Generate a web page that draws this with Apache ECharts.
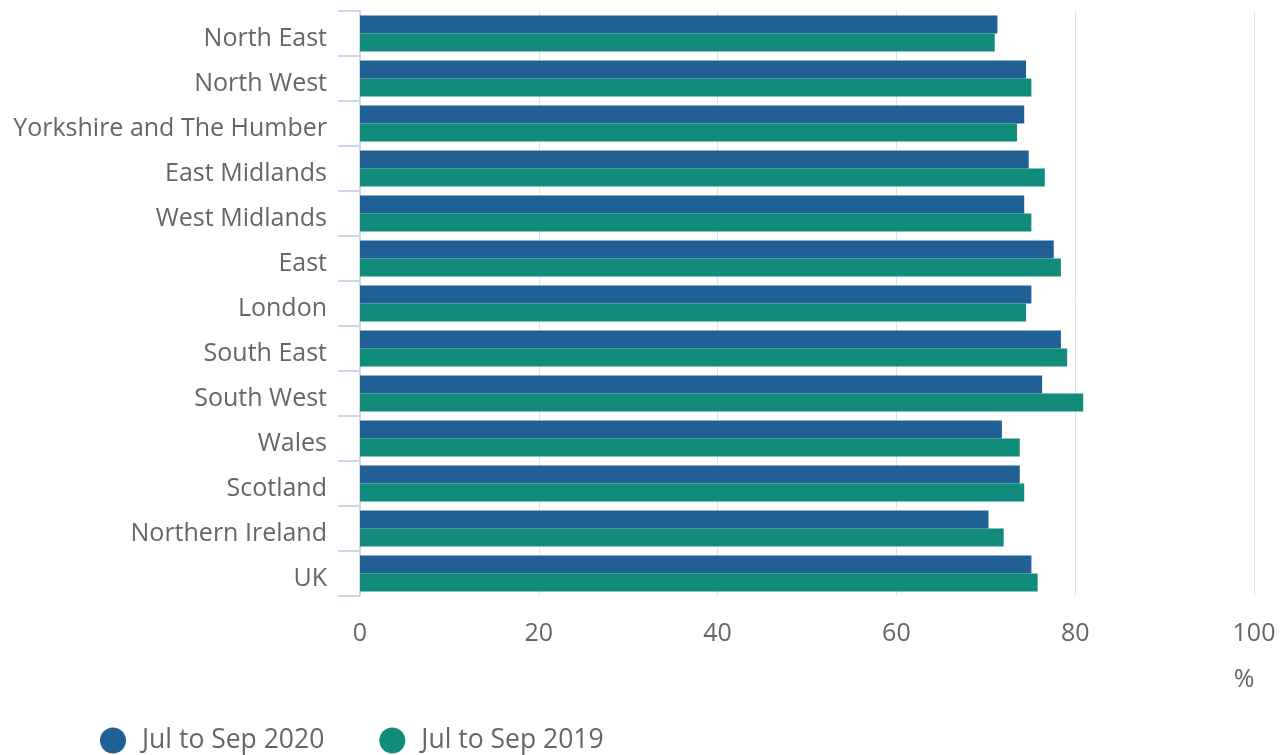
<!DOCTYPE html>
<html>
<head>
<meta charset="utf-8">
<script src="https://cdn.jsdelivr.net/npm/echarts@6/dist/echarts.min.js"></script>
<style>
  html, body { margin: 0; padding: 0; background: #fff; }
  #main { width: 1284px; height: 755px; }
</style>
</head>
<body>
<div id="main"></div>
<script>
const regions = ['North East', 'North West', 'Yorkshire and The Humber', 'East Midlands', 'West Midlands',
  'East', 'London', 'South East', 'South West', 'Wales', 'Scotland', 'Northern Ireland', 'UK'];
const rate2020 = [71.3, 74.5, 74.3, 74.8, 74.3, 77.6, 75.1, 78.4, 76.3, 71.8, 73.8, 70.3, 75.1];
const rate2019 = [71.0, 75.1, 73.5, 76.6, 75.1, 78.4, 74.5, 79.1, 80.9, 73.8, 74.3, 72.0, 75.8];
const seriesNames = ['Jul to Sep 2020', 'Jul to Sep 2019'];
const xTicks = [0, 20, 40, 60, 80, 100];

const textColor = '#666666';
const font = '"Open Sans", "Noto Sans", sans-serif';

const myChart = echarts.init(document.getElementById('main'));
const option = {
  textStyle: { fontFamily: font },
  grid: { left: 360, right: 30, top: 11, bottom: 159 },
  legend: {
    left: 95,
    top: 722,
    icon: 'circle',
    itemWidth: 26,
    itemHeight: 26,
    itemGap: 55,
    textStyle: { color: textColor, fontSize: 26.5, fontFamily: font, padding: [0, 0, 0, 11] },
    data: seriesNames
  },
  xAxis: {
    type: 'value',
    min: xTicks[0],
    max: xTicks[xTicks.length - 1],
    interval: 20,
    axisLine: { show: false },
    axisTick: { show: false },
    axisLabel: { color: textColor, fontSize: 25, margin: 25, fontFamily: font },
    splitLine: { show: true, lineStyle: { color: '#e3e3e3', width: 1 } },
    name: '%',
    nameLocation: 'end',
    nameGap: -10,
    nameTextStyle: { color: textColor, fontSize: 25, fontFamily: font, align: 'center', verticalAlign: 'top', padding: [71, 0, 0, 0] }
  },
  yAxis: {
    type: 'category',
    data: regions,
    inverse: true,
    axisLine: { show: true, lineStyle: { color: '#ccd6eb', width: 2 } },
    axisTick: { show: true, length: 22, lineStyle: { color: '#ccd6eb', width: 2 } },
    axisLabel: {
      margin: 33,
      formatter: '{r|{value}}',
      rich: {
        r: { color: textColor, fontSize: 25, fontFamily: font, padding: [10, 0, 0, 0] }
      }
    },
    splitLine: { show: false }
  },
  series: [
    {
      name: seriesNames[0],
      type: 'bar',
      data: rate2020,
      barGap: '0%',
      barCategoryGap: '20%',
      itemStyle: { color: '#206095' }
    },
    {
      name: seriesNames[1],
      type: 'bar',
      data: rate2019,
      barGap: '0%',
      barCategoryGap: '20%',
      itemStyle: { color: '#118c7b' }
    }
  ]
};
option && myChart.setOption(option);
</script>
</body>
</html>
